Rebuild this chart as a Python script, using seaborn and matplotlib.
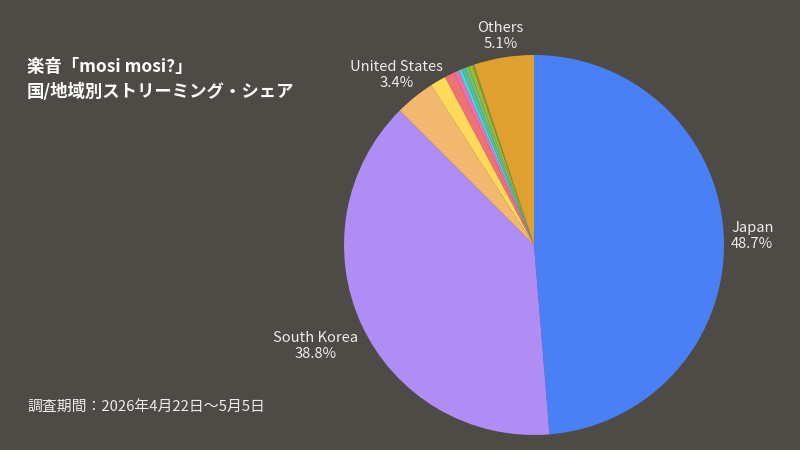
import matplotlib
matplotlib.use('Agg')
import matplotlib.pyplot as plt
import seaborn as sns
import numpy as np

# Data
countries = ['Japan', 'South Korea', 'United States', 'c4', 'c5', 'c6', 'c7',
             'c8', 'c9', 'c10', 'c11', 'Others']
shares = [48.7, 38.8, 3.4, 1.35, 0.85, 0.4, 0.3, 0.3, 0.3, 0.35, 0.15, 5.1]
labelled = ['Japan', 'South Korea', 'United States', 'Others']
colors = ['#4a80f5', '#b08cf5', '#f2b870', '#ffd95a', '#f07272', '#f06eb0',
          '#4fd0e0', '#4cc3a0', '#74c06a', '#9ab83c', '#8e9a22', '#e0a030']

title = '楽音「mosi mosi?」\n国/地域別ストリーミング・シェア'
footer = '調査期間：2026年4月22日〜5月5日'

bg = '#4e4b46'
sns.set_theme(style='white')
plt.rcParams['font.family'] = ['Noto Sans CJK JP', 'DejaVu Sans']

fig = plt.figure(figsize=(8, 4.5), dpi=100, facecolor=bg)
ax = fig.add_axes([0.38625, -0.0444, 0.5625, 1.0])
ax.set_facecolor(bg)

labels = [c if c in labelled else '' for c in countries]
wedges, texts = ax.pie(shares, colors=colors, startangle=90, counterclock=False,
                       radius=1, labels=labels, labeldistance=1.15,
                       wedgeprops=dict(linewidth=0),
                       textprops=dict(color='#ececec', fontsize=10.6))

# label text: name and percentage, centered; push South Korea a bit further out
extra = {'South Korea': 1.10, 'Others': 0.97}
for w, t, c, s in zip(wedges, texts, countries, shares):
    if c not in labelled:
        continue
    x, y = t.get_position()
    k = extra.get(c, 1.0)
    t.set_position((x * k, y * k))
    t.set_text(f'{c}\n{s}%')
    t.set_ha('center')
    t.set_va('center')
    t.set_multialignment('center')
    t.set_linespacing(1.2)
    t.set_clip_on(False)

lim = 225 / 190
ax.set_xlim(-lim, lim)
ax.set_ylim(-lim, lim)
ax.set_aspect('equal')
ax.axis('off')

fig.text(27 / 800, 1 - 58 / 450, title, color='white', fontsize=12.5,
         fontweight='bold', ha='left', va='top', linespacing=1.45)
fig.text(27 / 800, 1 - 407 / 450, footer, color='#ececec', fontsize=10.7,
         ha='left', va='center')

fig.savefig('out.png', dpi=100, facecolor=bg)
